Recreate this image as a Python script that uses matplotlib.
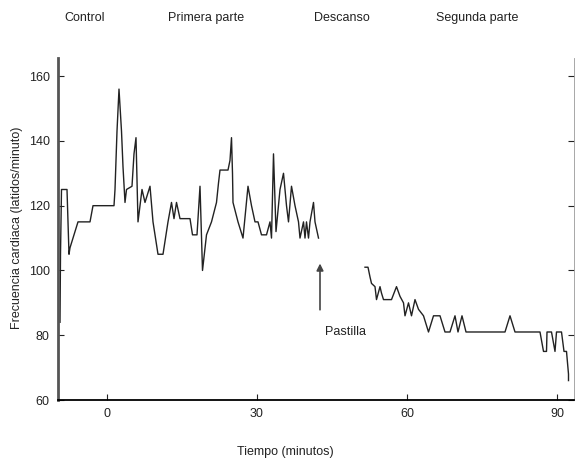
import matplotlib.pyplot as plt

plt.rcParams["font.family"] = ["Liberation Sans", "DejaVu Sans"]

# antes de la pastilla (minutos, latidos/minuto)
t1 = [-9.4, -9.3, -9.1, -8.0, -7.8, -7.6, -7.4, -5.8, -3.4, -2.8, 1.4, 1.6, 2.0, 2.4,
      2.9, 3.2, 3.6, 3.9, 5.0, 5.4, 5.8, 6.2, 7.0, 7.6, 8.2, 8.6, 9.2, 10.2, 11.2,
      12.2, 12.9, 13.4, 13.9, 14.6, 16.6, 17.1, 18.0, 18.6, 19.1, 19.9, 20.9, 21.9,
      22.3, 22.6, 24.2, 24.6, 24.9, 25.1, 25.2, 26.2, 27.2, 28.2, 28.9, 29.6, 30.2,
      30.9, 31.9, 32.6, 32.9, 33.3, 33.8, 34.6, 35.3, 35.9, 36.3, 36.9, 37.6, 38.3,
      38.6, 39.3, 39.6, 39.9, 40.3, 40.6, 41.3, 41.6, 42.3]
f1 = [84, 105, 125, 125, 115, 105, 107, 115, 115, 120, 120, 125, 143, 156,
      143, 132, 121, 125, 126, 136, 141, 115, 125, 121, 124, 126, 115, 105, 105,
      115, 121, 116, 121, 116, 116, 111, 111, 126, 100, 111, 115, 121,
      127, 131, 131, 134, 141, 130, 121, 115, 110, 126, 120, 115, 115,
      111, 111, 115, 110, 136, 112, 125, 130, 120, 115, 126, 120, 115,
      110, 115, 110, 115, 110, 115, 121, 115, 110]

# despues de la pastilla
t2 = [51.6, 52.2, 52.6, 52.9, 53.6, 53.9, 54.6, 54.9, 55.3, 56.9, 57.9, 58.6, 59.3,
      59.6, 60.3, 60.9, 61.6, 62.3, 63.3, 64.3, 65.3, 66.6, 67.6, 68.6, 69.6, 70.2,
      71.0, 71.8, 79.6, 80.6, 81.6, 86.6, 87.3, 87.9, 88.0, 88.9, 89.6, 89.9, 90.9,
      91.4, 91.9, 92.3, 92.3]
f2 = [101, 101, 98, 96, 95, 91, 95, 93, 91, 91, 95, 92, 90,
      86, 90, 86, 91, 88, 86, 81, 86, 86, 81, 81, 86, 81,
      86, 81, 81, 86, 81, 81, 75, 75, 81, 81, 75, 81, 81,
      75, 75, 68, 66]

xticks = [0, 30, 60, 90]
yticks = [60, 80, 100, 120, 140, 160]
fases = ["Control", "Primera parte", "Descanso", "Segunda parte"]
fases_x = [85, 206, 342, 477]

fig = plt.figure(figsize=(5.76, 4.65), dpi=100)
ax = fig.add_axes([58 / 576, 65 / 465, 516 / 576, 342 / 465])

ax.plot(t1, f1, color="#222222", lw=1.0)
ax.plot(t2, f2, color="#222222", lw=1.0)

ax.set_xlim(-9.8, 93.4)
ax.set_ylim(60, 165.6)
ax.set_xticks(xticks)
ax.set_yticks(yticks)
ax.tick_params(direction="in", length=4, labelsize=9, colors="#222222",
               right=True, pad=6)
ax.spines["top"].set_visible(False)
ax.spines["left"].set_linewidth(2)
ax.spines["left"].set_color("#555555")
ax.spines["bottom"].set_linewidth(1.3)
ax.spines["right"].set_linewidth(0.6)
ax.spines["right"].set_color("#999999")

ax.annotate("", xy=(42.6, 103), xytext=(42.6, 87),
            arrowprops=dict(arrowstyle="-|>", lw=1.2, color="#444444",
                            mutation_scale=10))
ax.text(47.6, 81, "Pastilla", ha="center", va="center", fontsize=9,
        color="#222222")

for s, xp in zip(fases, fases_x):
    fig.text(xp / 576, 1 - 18 / 465, s, ha="center", va="center",
             fontsize=9, color="#222222")

fig.text(285 / 576, 1 - 452 / 465, "Tiempo (minutos)", ha="center",
         va="center", fontsize=9, color="#222222")
fig.text(17 / 576, 1 - 228 / 465, "Frecuencia cardiaca (latidos/minuto)",
         ha="center", va="center", rotation=90, fontsize=9, color="#222222")

fig.savefig("out.png", dpi=100)
